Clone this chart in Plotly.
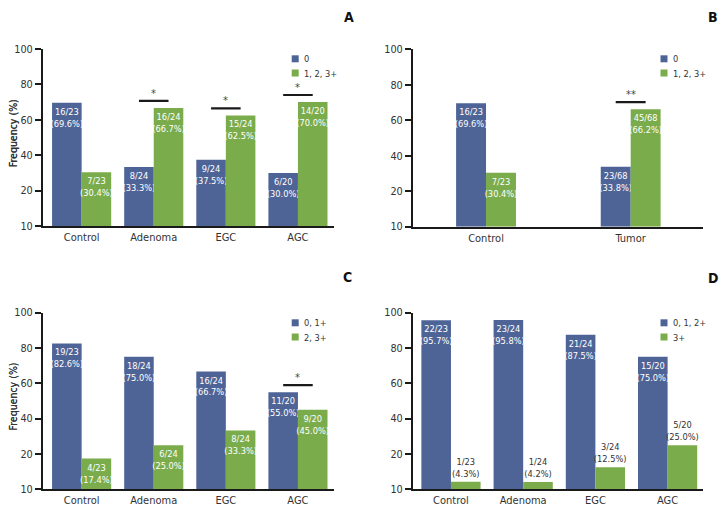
import plotly.graph_objects as go

FONT = "DejaVu Sans Condensed, DejaVu Sans, sans-serif"
BLUE = "#4f6496"
GREEN = "#7bac4c"
TXT = "#333333"
AX = "#1a1a1a"

# the page body adds an 8 px margin, so the figure is drawn 8 px smaller and
# every pixel position below is measured in window coordinates
OFF = 8
W, H = 728 - OFF, 510 - OFF

# ---------------- data ----------------
cats_A = ["Control", "Adenoma", "EGC", "AGC"]
totals_A = [23, 24, 24, 20]
neg_A = [16, 8, 9, 6]
negpct_A = [69.6, 33.3, 37.5, 30.0]
pos_A = [7, 16, 15, 14]
pospct_A = [30.4, 66.7, 62.5, 70.0]
sig_A = ["", "*", "*", "*"]
legend_A = ["0", "1, 2, 3+"]

cats_B = ["Control", "Tumor"]
totals_B = [23, 68]
neg_B = [16, 23]
negpct_B = [69.6, 33.8]
pos_B = [7, 45]
pospct_B = [30.4, 66.2]
sig_B = ["", "**"]
legend_B = ["0", "1, 2, 3+"]

cats_C = ["Control", "Adenoma", "EGC", "AGC"]
totals_C = [23, 24, 24, 20]
neg_C = [19, 18, 16, 11]
negpct_C = [82.6, 75.0, 66.7, 55.0]
pos_C = [4, 6, 8, 9]
pospct_C = [17.4, 25.0, 33.3, 45.0]
sig_C = ["", "", "", "*"]
legend_C = ["0, 1+", "2, 3+"]

cats_D = ["Control", "Adenoma", "EGC", "AGC"]
totals_D = [23, 24, 24, 20]
neg_D = [22, 23, 21, 15]
negpct_D = [95.7, 95.8, 87.5, 75.0]
pos_D = [1, 1, 3, 5]
pospct_D = [4.3, 4.2, 12.5, 25.0]
sig_D = ["", "", "", ""]
legend_D = ["0, 1, 2+", "3+"]

y_tickvals = [0, 20, 40, 60, 80, 100]
y_ticktext = ["10", "20", "40", "60", "80", "100"]
panel_letters = ["A", "B", "C", "D"]

# ---------------- layout geometry (window pixels) ----------------
panels = [
    dict(cats=cats_A, tot=totals_A, neg=neg_A, negp=negpct_A, pos=pos_A, posp=pospct_A,
         sig=sig_A, leg=legend_A, x0=42.7, x1=334, y100=49, y0=226, xr=[-0.54, 3.5], bw=0.41,
         leg_x=291.7, leg_y=55.3, letter=(349.0, None), green_out=False),
    dict(cats=cats_B, tot=totals_B, neg=neg_B, negp=negpct_B, pos=pos_B, posp=pospct_B,
         sig=sig_B, leg=legend_B, x0=412.7, x1=703, y100=49.3, y0=226.7, xr=[-0.507, 1.5], bw=0.207,
         leg_x=660.5, leg_y=55.3, letter=(712.5, None), green_out=False),
    dict(cats=cats_C, tot=totals_C, neg=neg_C, negp=negpct_C, pos=pos_C, posp=pospct_C,
         sig=sig_C, leg=legend_C, x0=42.7, x1=334, y100=312.7, y0=489.3, xr=[-0.54, 3.5], bw=0.41,
         leg_x=291.7, leg_y=319.3, letter=(347.0, 277.0), green_out=False),
    dict(cats=cats_D, tot=totals_D, neg=neg_D, negp=negpct_D, pos=pos_D, posp=pospct_D,
         sig=sig_D, leg=legend_D, x0=412.7, x1=703, y100=312.7, y0=489.3, xr=[-0.53, 3.49], bw=0.41,
         leg_x=660.5, leg_y=319.3, letter=(712.5, 277.7), green_out=True),
]


def px(x):
    return (x - OFF) / W


def py(y):
    return 1 - (y - OFF) / H


fig = go.Figure()
shapes = []
annotations = []
layout_axes = {}

for k, p in enumerate(panels):
    sfx = "" if k == 0 else str(k + 1)
    xa, ya = "x" + sfx, "y" + sfx
    n = len(p["cats"])
    xs = list(range(n))
    bw = p["bw"]
    neg_text = [f"{a}/{t}<br>({v:.1f}%)" for a, t, v in zip(p["neg"], p["tot"], p["negp"])]
    pos_text = [f"{a}/{t}<br>({v:.1f}%)" for a, t, v in zip(p["pos"], p["tot"], p["posp"])]

    fig.add_trace(go.Bar(
        x=xs, y=p["negp"], width=bw, offset=-bw, marker=dict(color=BLUE, line=dict(width=0)),
        text=neg_text, textposition="inside", insidetextanchor="end", textangle=0,
        textfont=dict(family=FONT, size=9.2, color="white"),
        xaxis=xa, yaxis=ya, showlegend=False, hoverinfo="skip", cliponaxis=False,
    ))
    fig.add_trace(go.Bar(
        x=xs, y=p["posp"], width=bw, offset=0, marker=dict(color=GREEN, line=dict(width=0)),
        text=pos_text, textposition="outside" if p["green_out"] else "inside",
        insidetextanchor="end", textangle=0,
        textfont=dict(family=FONT, size=9.2, color=TXT if p["green_out"] else "white"),
        xaxis=xa, yaxis=ya, showlegend=False, hoverinfo="skip", cliponaxis=False,
    ))

    # significance markers
    for i, s in enumerate(p["sig"]):
        if not s:
            continue
        top = max(p["negp"][i], p["posp"][i]) + 4
        shapes.append(dict(type="line", xref=xa, yref=ya, x0=i - bw / 2, x1=i + bw / 2,
                           y0=top, y1=top, line=dict(color=AX, width=2.2)))
        annotations.append(dict(xref=xa, yref=ya, x=i, y=top, text=s, showarrow=False,
                                yanchor="bottom", yshift=-1,
                                font=dict(family=FONT, size=11, color="#444444")))

    # axes
    xkey = "xaxis" if k == 0 else f"xaxis{k + 1}"
    ykey = "yaxis" if k == 0 else f"yaxis{k + 1}"
    layout_axes[xkey] = dict(
        domain=[px(p["x0"]), px(p["x1"])], range=p["xr"], anchor=ya,
        tickvals=xs, ticktext=p["cats"], ticks="", showgrid=False, zeroline=False,
        showline=True, linecolor=AX, linewidth=1.5, automargin=False,
        tickfont=dict(family=FONT, size=11, color=TXT), fixedrange=True,
    )
    layout_axes[ykey] = dict(
        domain=[py(p["y0"]), py(p["y100"])], range=[0, 100], anchor=xa,
        tickvals=y_tickvals, ticktext=y_ticktext, ticks="outside", ticklen=6, tickwidth=1.5,
        tickcolor=AX, showgrid=False, zeroline=False, showline=True, linecolor=AX, linewidth=1.5,
        automargin=False,
        tickfont=dict(family=FONT, size=10.8, color=TXT), fixedrange=True,
    )

    # y-axis title
    annotations.append(dict(xref="paper", yref="paper", x=px(12.5),
                            y=py((p["y0"] + p["y100"]) / 2 - 4), text="Frequency (%)",
                            textangle=-90, showarrow=False, xanchor="center", yanchor="middle",
                            font=dict(family=FONT, size=10.5, color=TXT)))

    # manual legend
    for j, (lab, col) in enumerate(zip(p["leg"], [BLUE, GREEN])):
        yy = p["leg_y"] + j * 14.2
        shapes.append(dict(type="rect", xref="paper", yref="paper",
                           x0=px(p["leg_x"]), x1=px(p["leg_x"] + 7),
                           y0=py(yy), y1=py(yy + 7), fillcolor=col, line=dict(width=0)))
        annotations.append(dict(xref="paper", yref="paper", x=px(p["leg_x"] + 10),
                                y=py(yy + 3.5), text=lab, showarrow=False,
                                xanchor="left", yanchor="middle",
                                font=dict(family=FONT, size=9.2, color=TXT)))

    # panel letter
    lx, ly = p["letter"]
    if ly is None:
        # top row letters sit against the top edge of the figure
        annotations.append(dict(xref="paper", yref="paper", x=px(lx), y=1,
                                text=f"<b>{panel_letters[k]}</b>", showarrow=False,
                                xanchor="center", yanchor="top", borderpad=0,
                                font=dict(family=FONT, size=14, color="#111111")))
    else:
        annotations.append(dict(xref="paper", yref="paper", x=px(lx), y=py(ly),
                                text=f"<b>{panel_letters[k]}</b>", showarrow=False,
                                xanchor="center", yanchor="middle", borderpad=0,
                                font=dict(family=FONT, size=14, color="#111111")))

fig.update_layout(
    width=W, height=H, autosize=False,
    margin=dict(l=0, r=0, t=0, b=0, pad=0),
    paper_bgcolor="white", plot_bgcolor="white",
    barmode="overlay",
    uniformtext=dict(minsize=9.2, mode="show"),
    shapes=shapes, annotations=annotations,
    font=dict(family=FONT, color=TXT),
    **layout_axes,
)

fig.write_html("out.html")
